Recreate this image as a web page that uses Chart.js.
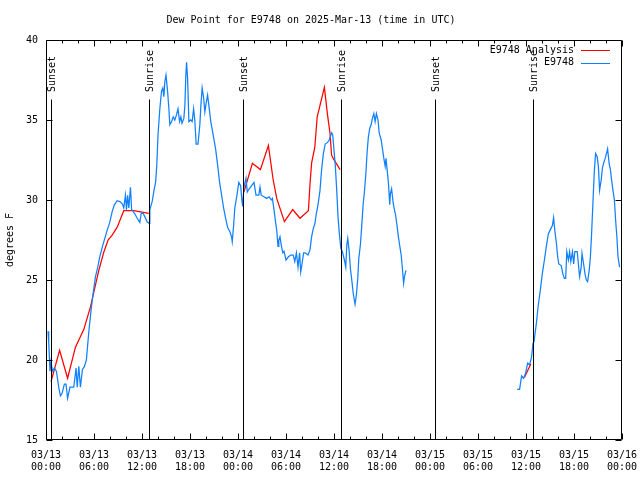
<!DOCTYPE html>
<html>
<head>
<meta charset="utf-8">
<script src="https://cdn.jsdelivr.net/npm/chart.js@4.4.1/dist/chart.umd.min.js"></script>
<style>
    html, body { margin: 0; padding: 0; background: #fff; }
</style>
</head>
<body>
<canvas id="DewChart" width="640" height="480"></canvas>
<script>
// hours since 2025-03-13 00:00 UTC
const analysisHours = [0.63, 1.7, 2.7, 3.68, 4.72, 5.55, 6.6, 7.2, 7.76, 8.27, 8.9, 9.72, 10.98, 12.85,
    13.5,
    24.74, 25.8, 26.8, 27.8, 28.4, 28.84, 29.8, 30.84, 31.75, 32.8, 33.0, 33.2, 33.6, 33.9, 34.8, 35.17, 35.5, 35.7, 35.9, 36.76,
    40,
    59.8, 60.6];
const analysisDew = [18.65, 20.6, 18.86, 20.8, 21.9, 23.3, 25.6, 26.7, 27.5, 27.8, 28.3, 29.33, 29.33, 29.17,
    null,
    30.5, 32.3, 31.9, 33.4, 31.25, 30.1, 28.65, 29.4, 28.86, 29.33, 31.0, 32.3, 33.3, 35.2, 37.04, 35.4, 34.17, 32.8, 32.6, 31.9,
    null,
    18.9, 19.75];

const stationHours = [0.25, 0.34, 0.5, 0.63, 0.8, 1.05, 1.3, 1.59, 1.8, 2.0, 2.3, 2.5, 2.7, 3.0, 3.47, 3.76, 3.9, 4.1, 4.3, 4.55,
    4.8, 5.05, 5.34, 5.63, 5.9, 6.18, 6.47, 6.72, 7.06, 7.35, 7.64, 7.97, 8.27, 8.55, 8.9, 9.22, 9.56, 9.72, 9.93, 10.06,
    10.2, 10.35, 10.56, 10.7, 11.06, 11.4, 11.73, 11.9, 12.14, 12.35, 12.64, 12.9, 12.98, 13.27, 13.5, 13.7, 13.85, 14.0, 14.23, 14.44,
    14.6, 14.73, 14.86, 15.0, 15.2, 15.36, 15.48, 15.7, 15.9, 16.1, 16.3, 16.5, 16.7, 16.86, 17.0, 17.23, 17.36, 17.48, 17.57, 17.7,
    17.86, 18.1, 18.27, 18.45, 18.6, 18.77, 19.0, 19.23, 19.36, 19.52, 19.7, 19.86, 20.0, 20.2, 20.36, 20.6, 20.9, 21.2, 21.45, 21.7,
    21.95, 22.2, 22.45, 22.7, 23.0, 23.2, 23.28, 23.45, 23.6, 23.87, 24.1, 24.33, 24.5, 24.58, 24.74, 25.0, 25.16, 25.4, 25.7, 26.0,
    26.25, 26.6, 26.75, 26.9, 27.25, 27.58, 27.9, 28.16, 28.3, 28.5, 28.66, 28.84, 29.0, 29.1, 29.25, 29.4, 29.6, 29.75, 30.0, 30.3,
    30.6, 30.9, 31.1, 31.3, 31.5, 31.7, 31.84, 32.0, 32.2, 32.4, 32.75, 33.0, 33.2, 33.4, 33.6, 33.8, 34.0, 34.25, 34.45, 34.67,
    34.9, 35.2, 35.4, 35.7, 35.84, 36.0, 36.17, 36.34, 36.5, 36.67, 36.85, 37.05, 37.3, 37.47, 37.6, 37.72, 37.9, 38.05, 38.2, 38.4,
    38.63, 38.8, 38.97, 39.1, 39.3, 39.47, 39.64, 39.8, 39.97, 40.14, 40.3, 40.48, 40.64, 40.8, 40.98, 41.14, 41.3, 41.5, 41.65, 41.9,
    42.06, 42.23, 42.4, 42.5, 42.64, 42.8, 42.97, 43.05, 43.2, 43.4, 43.55, 43.7, 43.9, 44.05, 44.2, 44.4, 44.55, 44.7, 44.8, 45.0,
    52,
    58.9, 59.2, 59.45, 59.7, 59.95, 60.2, 60.45, 60.7, 60.87, 61.0, 61.3, 61.5, 61.8, 62.04, 62.3, 62.54, 62.8, 63.0, 63.3, 63.45,
    63.6, 63.8, 63.96, 64.1, 64.4, 64.6, 64.8, 64.96, 65.1, 65.3, 65.45, 65.6, 65.8, 65.96, 66.1, 66.4, 66.5, 66.7, 66.9, 67.0,
    67.2, 67.4, 67.55, 67.7, 67.9, 68.05, 68.2, 68.4, 68.55, 68.7, 68.9, 69.05, 69.2, 69.4, 69.55, 69.7, 69.9, 70.05, 70.2, 70.4,
    70.55, 70.7, 70.87, 71.05, 71.2, 71.36, 71.5, 71.7];
const stationDew = [21.8, 21.1, 19.3, 19.9, 19.3, 19.5, 19.3, 18.3, 17.75, 17.9, 18.5, 18.5, 17.6, 18.3, 18.3, 19.5, 18.3, 19.6, 18.3, 19.4,
    19.6, 20.0, 21.7, 23.1, 24.2, 25.2, 25.8, 26.45, 27.1, 27.6, 28.1, 28.6, 29.27, 29.7, 29.96, 29.9, 29.75, 29.5, 30.3, 29.4,
    30.3, 29.5, 30.8, 29.4, 29.17, 28.86, 28.6, 29.17, 29.17, 28.96, 28.64, 28.54, 29.4, 29.9, 30.6, 31.1, 32.2, 34.06, 35.7, 36.8,
    37.0, 36.46, 37.4, 37.8, 36.8, 35.7, 34.7, 34.9, 35.2, 35.0, 35.3, 35.7, 34.9, 35.2, 34.8, 35.1, 35.9, 37.8, 38.6, 37.6,
    34.9, 35.0, 34.9, 35.7, 35.0, 33.5, 33.5, 34.7, 35.9, 37.0, 36.4, 35.5, 36.0, 36.56, 35.9, 34.9, 34.06, 33.2, 32.2, 31.1,
    30.3, 29.5, 28.86, 28.3, 28.0, 27.7, 27.4, 28.4, 29.5, 30.3, 31.1, 30.9, 29.9, 29.6, 30.8, 31.35, 30.5, 30.7, 30.9, 31.1,
    30.3, 30.3, 30.8, 30.3, 30.2, 30.1, 30.2, 30.0, 30.1, 29.4, 28.75, 28.1, 27.1, 27.5, 27.7, 27.2, 26.7, 26.8, 26.25, 26.45,
    26.56, 26.56, 26.15, 26.7, 25.8, 26.7, 25.5, 26.0, 26.7, 26.7, 26.56, 26.9, 27.7, 28.2, 28.5, 29.17, 29.7, 30.6, 31.9, 32.9,
    33.5, 33.6, 33.75, 34.2, 34.06, 33.1, 32.1, 30.6, 28.96, 27.9, 26.98, 26.77, 26.25, 25.8, 27.2, 27.6, 26.77, 25.7, 25.1, 24.17,
    23.48, 24.06, 25.1, 26.35, 27.2, 28.4, 29.7, 30.5, 31.56, 33.0, 33.96, 34.5, 34.7, 35.1, 35.4, 34.9, 35.4, 35.0, 34.2, 33.75,
    33.2, 32.6, 32.1, 32.6, 31.9, 31.1, 29.7, 30.4, 30.7, 29.8, 29.4, 29.06, 28.3, 27.7, 27.2, 26.56, 25.7, 24.8, 25.2, 25.6,
    null,
    18.17, 18.17, 19.0, 18.86, 19.17, 19.8, 19.7, 20.2, 21.04, 21.15, 22.3, 23.3, 24.4, 25.4, 26.25, 27.1, 27.9, 28.1, 28.4, 28.9,
    28.1, 27.3, 26.45, 26.0, 25.9, 25.4, 25.1, 25.1, 26.77, 26.25, 26.77, 26.15, 26.77, 26.0, 26.77, 26.77, 26.25, 25.2, 25.8, 26.67,
    26.0, 25.3, 25.0, 24.9, 25.6, 26.45, 27.9, 30.2, 31.9, 32.9, 32.7, 32.1, 30.6, 31.25, 32.0, 32.3, 32.6, 32.9, 33.2, 32.25,
    31.9, 31.25, 30.6, 30.0, 28.75, 27.7, 26.45, 25.8];

const sunHours = [0.68, 12.89, 24.66, 36.92, 48.65, 60.83];
const sunLabels = ["Sunset", "Sunrise", "Sunset", "Sunrise", "Sunset", "Sunrise"];

const seriesNames = ["E9748 Analysis", "E9748"];
const seriesColors = ["#ff0000", "#1080ff"];

const FONT = "'DejaVu Sans Mono', monospace";

function pad(n) {
    return String(n).padStart(2, "0");
}

// gnuplot look: frame, inward ticks, sun lines and the legend
const gnuplotDecor = {
    id: "gnuplotDecor",
    afterDatasetsDraw(chart) {
        const { ctx, chartArea: a, scales: { x, y } } = chart;
        const L = Math.round(a.left) + 0.5, R = Math.round(a.right) - 0.5;
        const T = Math.round(a.top) + 0.5, B = Math.round(a.bottom) - 0.5;
        ctx.save();
        ctx.strokeStyle = "#000";
        ctx.lineWidth = 1;
        ctx.beginPath();
        // ticks on x (2 h minor, 6 h major)
        for (let h = 0; h <= 72; h += 2) {
            const px = Math.round(x.getPixelForValue(h)) + 0.5;
            const len = h % 6 === 0 ? 6 : 3;
            ctx.moveTo(px, B); ctx.lineTo(px, B - len);
            ctx.moveTo(px, T); ctx.lineTo(px, T + len);
        }
        for (let v = 15; v <= 40; v += 5) {
            const py = Math.round(y.getPixelForValue(v)) + 0.5;
            ctx.moveTo(L, py); ctx.lineTo(L + 6, py);
            ctx.moveTo(R, py); ctx.lineTo(R - 6, py);
        }
        // sunrise / sunset markers
        sunHours.forEach((h) => {
            const px = Math.round(x.getPixelForValue(h)) + 0.5;
            ctx.moveTo(px, T + 59); ctx.lineTo(px, B);
        });
        ctx.rect(L, T, R - L, B - T);
        ctx.stroke();

        ctx.fillStyle = "#000";
        ctx.font = "10px " + FONT;
        sunHours.forEach((h, i) => {
            const px = Math.round(x.getPixelForValue(h));
            ctx.save();
            ctx.translate(px + 1, a.top + 52);
            ctx.rotate(-Math.PI / 2);
            ctx.textAlign = "left";
            ctx.textBaseline = "middle";
            ctx.fillText(sunLabels[i], 0, 0);
            ctx.restore();
        });

        // legend, text right aligned before the line sample
        ctx.textAlign = "right";
        ctx.textBaseline = "middle";
        seriesNames.forEach((name, i) => {
            const ly = a.top + 10 + i * 12.5;
            ctx.fillText(name, a.right - 48, ly);
            ctx.strokeStyle = seriesColors[i];
            ctx.beginPath();
            ctx.moveTo(a.right - 41, Math.round(ly) + 0.5);
            ctx.lineTo(a.right - 12, Math.round(ly) + 0.5);
            ctx.stroke();
        });
        ctx.restore();
    }
};

const ctx = document.getElementById("DewChart").getContext("2d");

new Chart(ctx, {
    type: "line",
    data: {
        datasets: [
            {
                label: seriesNames[1],
                data: stationHours.map((h, i) => ({ x: h, y: stationDew[i] })),
                borderColor: seriesColors[1],
                borderWidth: 1.25,
                pointRadius: 0,
                spanGaps: false
            },
            {
                label: seriesNames[0],
                data: analysisHours.map((h, i) => ({ x: h, y: analysisDew[i] })),
                borderColor: seriesColors[0],
                borderWidth: 1.25,
                pointRadius: 0,
                spanGaps: false
            }
        ]
    },
    options: {
        responsive: false,
        animation: false,
        layout: { padding: { left: 0, right: 18, top: 0, bottom: 0 } },
        elements: { line: { tension: 0 } },
        plugins: {
            legend: { display: false },
            tooltip: { enabled: false },
            title: {
                display: true,
                text: "Dew Point for E9748 on 2025-Mar-13 (time in UTC)",
                color: "#000",
                font: { family: FONT, size: 10, weight: "normal" },
                padding: { top: 14, bottom: 14 }
            }
        },
        scales: {
            x: {
                type: "linear",
                min: 0,
                max: 72,
                grid: { display: false },
                border: { display: false },
                afterFit: (scale) => {
                    scale.height = 40;
                    scale.paddingLeft = 0;
                    scale.paddingRight = 0;
                },
                ticks: {
                    stepSize: 6,
                    color: "#000",
                    padding: 1,
                    maxRotation: 0,
                    autoSkip: false,
                    font: { family: FONT, size: 10, lineHeight: 1.2 },
                    callback: (v) => ["03/" + pad(13 + Math.floor(v / 24)), pad(v % 24) + ":00"]
                }
            },
            y: {
                min: 15,
                max: 40,
                grid: { display: false },
                border: { display: false },
                afterFit: (scale) => { scale.width = 46; },
                title: {
                    display: true,
                    text: "degrees F",
                    color: "#000",
                    font: { family: FONT, size: 10 },
                    padding: { top: 4, bottom: 0 }
                },
                ticks: {
                    stepSize: 5,
                    color: "#000",
                    padding: 0,
                    font: { family: FONT, size: 10 }
                }
            }
        }
    },
    plugins: [gnuplotDecor]
});
</script>
</body>
</html>
